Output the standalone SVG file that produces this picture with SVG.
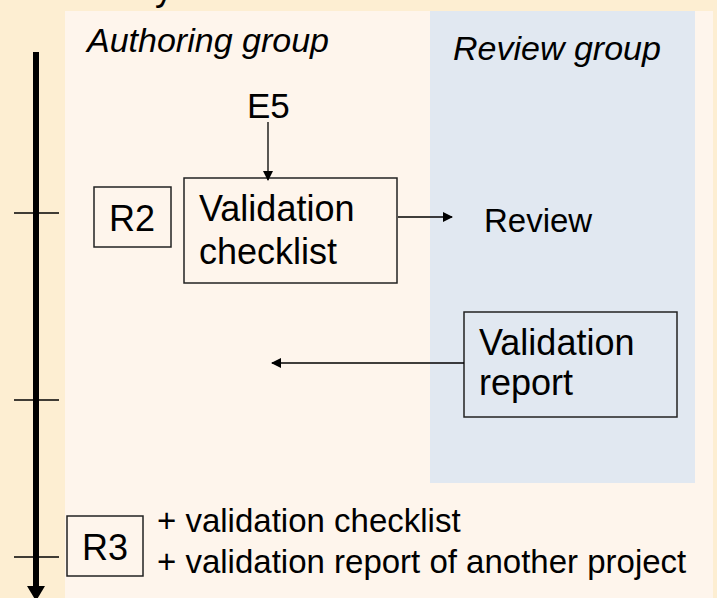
<svg xmlns="http://www.w3.org/2000/svg" width="717" height="598" viewBox="0 0 717 598">
<defs>
<style>
.t{font-family:"Liberation Sans",Arial,sans-serif;fill:#000}
.it{font-style:italic}
.box{fill:none;stroke:#222;stroke-width:1.5}
.con{stroke:#000;stroke-width:1.3;fill:none}
.tick{stroke:#000;stroke-width:1.5}
</style>
<marker id="ah" markerWidth="10" markerHeight="10" refX="9" refY="5" orient="auto" markerUnits="userSpaceOnUse">
<path d="M0,0 L10,5 L0,10 Z" fill="#000"/>
</marker>
</defs>
<rect x="0" y="0" width="717" height="598" fill="#FDEED2"/>
<rect x="65" y="11" width="648" height="587" fill="#FEF5EC"/>
<rect x="430" y="11" width="265" height="472" fill="#E1E8F1"/>
<text class="t" x="155" y="0" font-size="36">y</text>
<text class="t it" x="87" y="52" font-size="34">Authoring group</text>
<text class="t it" x="453" y="60" font-size="34">Review group</text>

<g id="timeline">
<line x1="36" y1="52" x2="36" y2="588" stroke="#000" stroke-width="6"/>
<polygon points="27,586 45,586 36,601" fill="#000"/>
<line class="tick" x1="14" y1="213" x2="59" y2="213"/>
<line class="tick" x1="14" y1="400" x2="59" y2="400"/>
<line class="tick" x1="14" y1="557" x2="59" y2="557"/>
</g>

<g id="E5"><text class="t" x="247" y="118" font-size="35">E5</text></g>

<g id="R2">
<rect class="box" x="94" y="187" width="77" height="60"/>
<text class="t" x="109" y="231" font-size="36">R2</text>
</g>

<g id="validation-checklist">
<rect class="box" x="184" y="178" width="213" height="105"/>
<text class="t" x="199" y="221" font-size="36">Validation</text>
<text class="t" x="199" y="264" font-size="36">checklist</text>
</g>

<g id="review"><text class="t" x="484" y="232" font-size="33">Review</text></g>

<g id="validation-report">
<rect class="box" x="464" y="312" width="213" height="105"/>
<text class="t" x="479" y="355" font-size="36">Validation</text>
<text class="t" x="479" y="395" font-size="36">report</text>
</g>

<g id="R3">
<rect class="box" x="67" y="516" width="76" height="60"/>
<text class="t" x="82" y="560" font-size="36">R3</text>
</g>

<g id="R3-notes">
<text class="t" x="157" y="532" font-size="33">+ validation checklist</text>
<text class="t" x="157" y="573" font-size="33">+ validation report of another project</text>
</g>

<g id="connectors">
<line class="con" x1="268" y1="122" x2="268" y2="180" marker-end="url(#ah)"/>
<line class="con" x1="398" y1="217" x2="452" y2="217" marker-end="url(#ah)"/>
<line class="con" x1="464" y1="363" x2="272" y2="363" marker-end="url(#ah)"/>
</g>
</svg>
